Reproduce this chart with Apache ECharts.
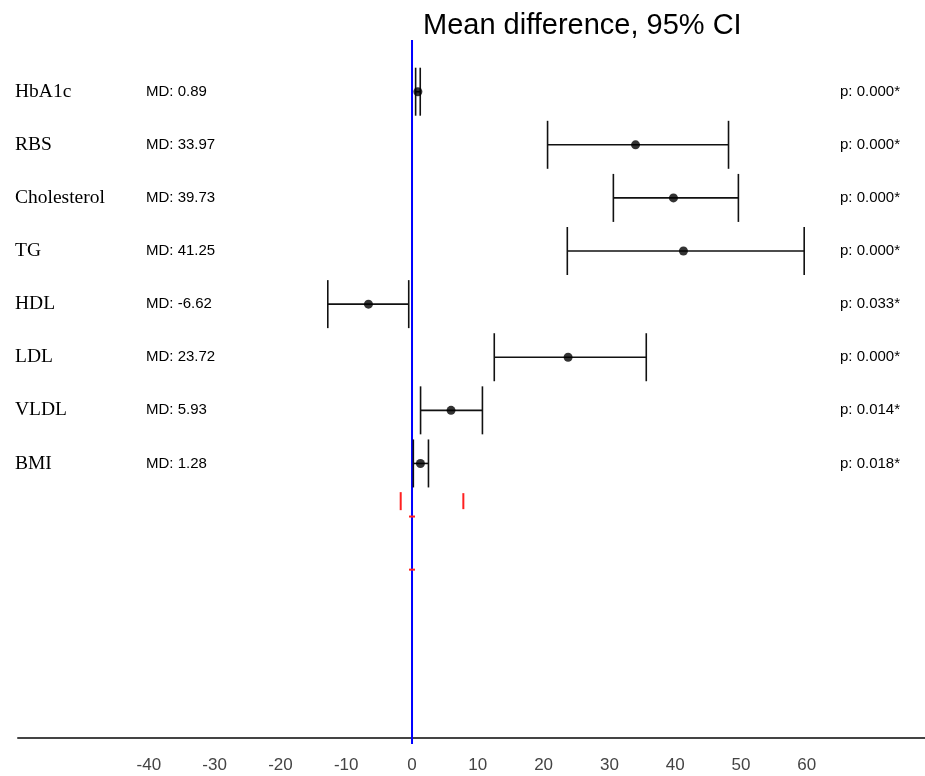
<!DOCTYPE html>
<html>
<head>
<meta charset="utf-8">
<script src="https://cdn.jsdelivr.net/npm/echarts@6/dist/echarts.min.js"></script>
<style>html,body{margin:0;padding:0;background:#fff}#c{width:925px;height:776px}</style>
</head>
<body>
<div id="c"></div>
<script>
// ---- data ----
const labels = ['HbA1c', 'RBS', 'Cholesterol', 'TG', 'HDL', 'LDL', 'VLDL', 'BMI'];
const meanDiff = [0.89, 33.97, 39.73, 41.25, -6.62, 23.72, 5.93, 1.28];
const ciLow = [0.55, 20.6, 30.6, 23.6, -12.8, 12.5, 1.3, 0.2];
const ciHigh = [1.25, 48.1, 49.6, 59.6, -0.5, 35.6, 10.7, 2.5];
const pValues = ['0.000*', '0.000*', '0.000*', '0.000*', '0.033*', '0.000*', '0.014*', '0.018*'];
const summaryCI = [-1.72, 7.8];      // red bracket marks below the rows
const summaryRow = 8.71;
const emptyRows = [9, 10];           // rows with zero-width red marks at 0
const tickValues = [-40, -30, -20, -10, 0, 10, 20, 30, 40, 50, 60];

// ---- chart ----
const rows = labels.map((l, i) => i + 1);
const chart = echarts.init(document.getElementById('c'), null, {renderer: 'canvas'});

const option = {
  animation: false,
  title: {
    text: 'Mean difference, 95% CI',
    left: 423, top: 11, padding: 0,
    textStyle: {fontFamily: 'Liberation Sans', fontSize: 29, fontWeight: 'normal', color: '#000'}
  },
  grid: {left: 18, right: 0, top: 40, bottom: 38},
  xAxis: {
    type: 'value', min: -59.88, max: 77.96,
    axisLine: {show: true, lineStyle: {color: '#444', width: 2}},
    axisTick: {show: false},
    splitLine: {show: false},
    axisLabel: {
      customValues: tickValues, margin: 19,
      fontFamily: 'Liberation Sans', fontSize: 17, color: '#444'
    }
  },
  yAxis: {
    type: 'value', inverse: true, min: 0.0264, max: 13.17,
    show: false, splitLine: {show: false}
  },
  series: [
    { // zero line
      type: 'custom', z: 1, silent: true,
      data: [[0]],
      encode: {x: 0},
      renderItem: function (params, api) {
        const top = api.coord([0, 0.0264]);
        const bot = api.coord([0, 13.17]);
        return {type: 'line', shape: {x1: top[0], y1: top[1], x2: bot[0], y2: bot[1] + 6},
          style: {stroke: '#0000ff', lineWidth: 2}};
      }
    },
    { // error bars
      type: 'custom', z: 3, silent: true,
      data: rows.map((r, i) => [ciLow[i], ciHigh[i], r]),
      encode: {x: [0, 1], y: 2},
      renderItem: function (params, api) {
        const a = api.coord([api.value(0), api.value(2)]);
        const b = api.coord([api.value(1), api.value(2)]);
        const h = 24;
        const st = {stroke: '#111', lineWidth: 1.6};
        return {type: 'group', children: [
          {type: 'line', shape: {x1: a[0], y1: a[1], x2: b[0], y2: b[1]}, style: st},
          {type: 'line', shape: {x1: a[0], y1: a[1] - h, x2: a[0], y2: a[1] + h}, style: st},
          {type: 'line', shape: {x1: b[0], y1: b[1] - h, x2: b[0], y2: b[1] + h}, style: st}
        ]};
      }
    },
    { // points
      type: 'scatter', z: 4, silent: true,
      symbol: 'circle', symbolSize: 9,
      itemStyle: {color: '#000'},
      data: rows.map((r, i) => [meanDiff[i], r])
    },
    { // red summary marks
      type: 'custom', z: 2, silent: true,
      data: [[summaryCI[0], summaryCI[1], summaryRow]],
      encode: {x: [0, 1], y: 2},
      renderItem: function (params, api) {
        const a = api.coord([api.value(0), api.value(2)]);
        const b = api.coord([api.value(1), api.value(2)]);
        const st = {stroke: '#ff2020', lineWidth: 2};
        return {type: 'group', children: [
          {type: 'line', shape: {x1: a[0], y1: a[1] - 9, x2: a[0], y2: a[1] + 9}, style: st},
          {type: 'line', shape: {x1: b[0], y1: b[1] - 8, x2: b[0], y2: b[1] + 8}, style: st}
        ]};
      }
    },
    { // red zero-width marks
      type: 'custom', z: 2, silent: true,
      data: emptyRows.map(r => [0, r]),
      encode: {x: 0, y: 1},
      renderItem: function (params, api) {
        const p = api.coord([api.value(0), api.value(1)]);
        return {type: 'line', shape: {x1: p[0] - 3, y1: p[1], x2: p[0] + 3, y2: p[1]},
          style: {stroke: '#ff2020', lineWidth: 2}};
      }
    },
    { // text columns
      type: 'custom', z: 5, silent: true,
      data: rows.map((r, i) => [0, r, i]),
      encode: {x: 0, y: 1},
      renderItem: function (params, api) {
        const i = api.value(2);
        const y = api.coord([0, api.value(1)])[1];
        return {type: 'group', children: [
          {type: 'text', x: 15, y: y, style: {text: labels[i], fill: '#000',
            font: '19.5px "Liberation Serif"', align: 'left', verticalAlign: 'middle'}},
          {type: 'text', x: 146, y: y, style: {text: 'MD: ' + meanDiff[i].toFixed(2), fill: '#000',
            font: '15px "Liberation Sans"', align: 'left', verticalAlign: 'middle'}},
          {type: 'text', x: 840, y: y, style: {text: 'p: ' + pValues[i], fill: '#000',
            font: '15px "Liberation Sans"', align: 'left', verticalAlign: 'middle'}}
        ]};
      }
    }
  ]
};
chart.setOption(option);
</script>
</body>
</html>
